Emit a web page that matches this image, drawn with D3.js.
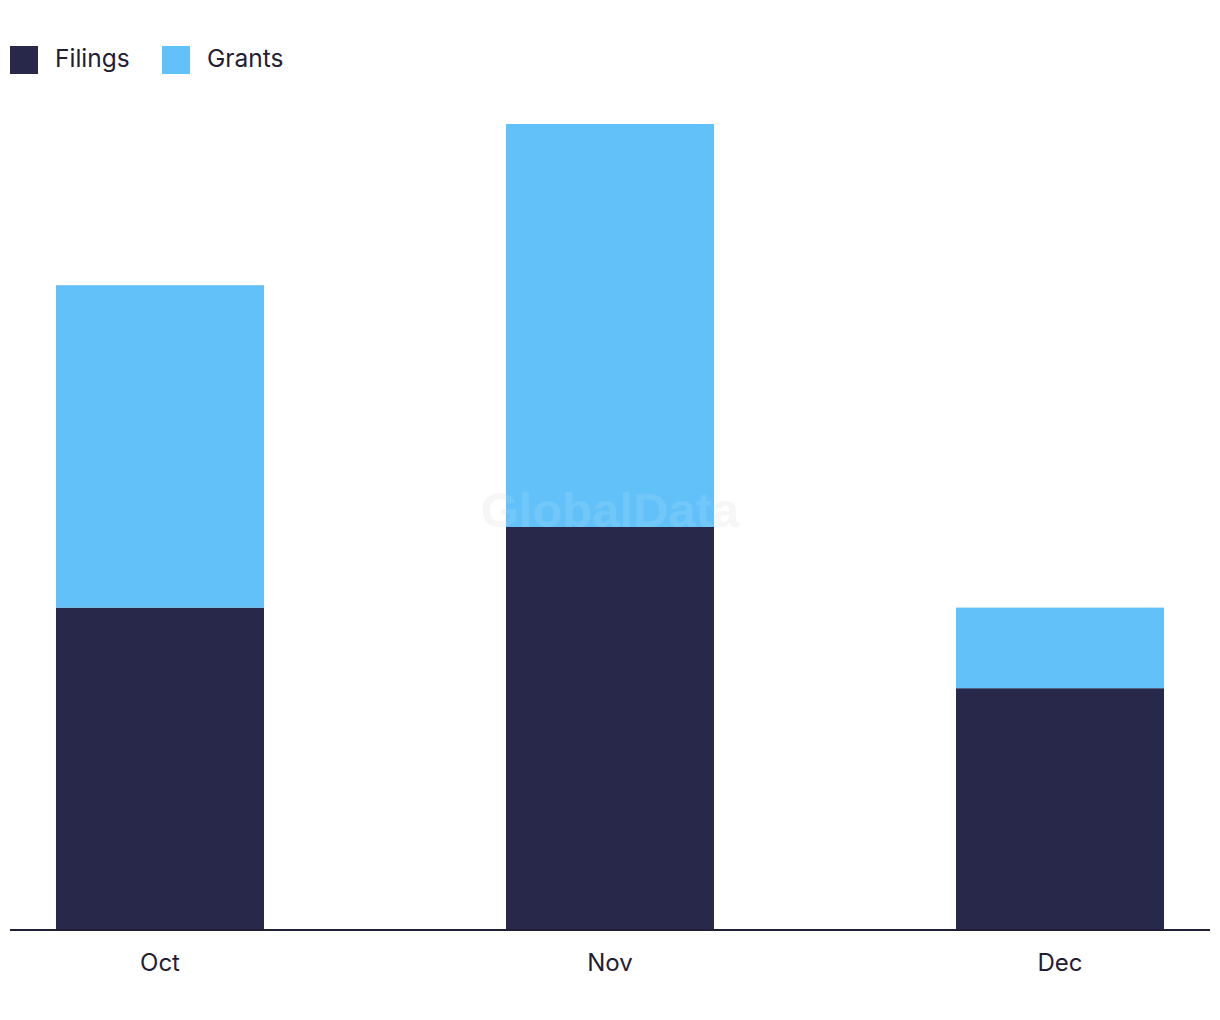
<!DOCTYPE html>
<html><head><meta charset="utf-8">
<script src="https://cdn.jsdelivr.net/npm/d3@7"></script>
<style>body{margin:0;background:#fff}svg{display:block}</style>
</head><body>
<svg id="c" width="1220" height="1020"></svg>
<script>
const months = ["Oct", "Nov", "Dec"];
const filings = [4, 5, 3];
const grants = [4, 5, 1];
const seriesNames = ["Filings", "Grants"];
const colors = ["#27284a", "#62c1f9"];

const svg = d3.select("#c");
const font = "Inter, 'Noto Sans', sans-serif";
const textColor = "#1f2037";

const x = d3.scaleBand().domain(months).range([10, 1210]).paddingInner(0.5378).paddingOuter(0.1022);
const y = d3.scaleLinear().domain([0, 10]).range([930, 124]);

const rows = months.map((m, i) => ({month: m, Filings: filings[i], Grants: grants[i]}));
const stacked = d3.stack().keys(seriesNames)(rows);

svg.append("text").attr("x", 610).attr("y", 527).attr("text-anchor", "middle")
  .attr("font-family", "'Liberation Sans', Arial, sans-serif").attr("font-weight", "bold")
  .attr("font-size", 49).attr("fill", "#e8e8e8").attr("fill-opacity", 0.45).text("GlobalData");

svg.append("g").selectAll("g").data(stacked).join("g")
  .attr("fill", (d, i) => colors[i])
  .selectAll("rect").data(d => d).join("rect")
  .attr("x", d => x(d.data.month)).attr("width", x.bandwidth())
  .attr("y", d => y(d[1])).attr("height", d => y(d[0]) - y(d[1]));

svg.append("text").attr("x", 610).attr("y", 527).attr("text-anchor", "middle")
  .attr("font-family", "'Liberation Sans', Arial, sans-serif").attr("font-weight", "bold")
  .attr("font-size", 49).attr("fill", "#ffffff").attr("fill-opacity", 0.1).text("GlobalData");

const xAxis = svg.append("g").attr("transform", "translate(0,930)")
  .call(d3.axisBottom(x).tickSize(0).tickPadding(24));
xAxis.select(".domain").attr("stroke", "#1f2037").attr("stroke-width", 2).attr("d", "M10,0H1210");
xAxis.selectAll("text").attr("font-family", font).attr("font-size", 24).attr("fill", textColor).attr("dy", "0.71em");

const legend = svg.append("g").attr("transform", "translate(10,46)");
const lx = [0, 152];
seriesNames.forEach((s, i) => {
  const g = legend.append("g").attr("transform", `translate(${lx[i]},0)`);
  g.append("rect").attr("width", 28).attr("height", 28).attr("fill", colors[i]);
  g.append("text").attr("x", 45).attr("y", 12).attr("dy", "0.35em")
    .attr("font-family", font).attr("font-size", 24.5).attr("fill", textColor).text(s);
});
</script>
</body></html>
